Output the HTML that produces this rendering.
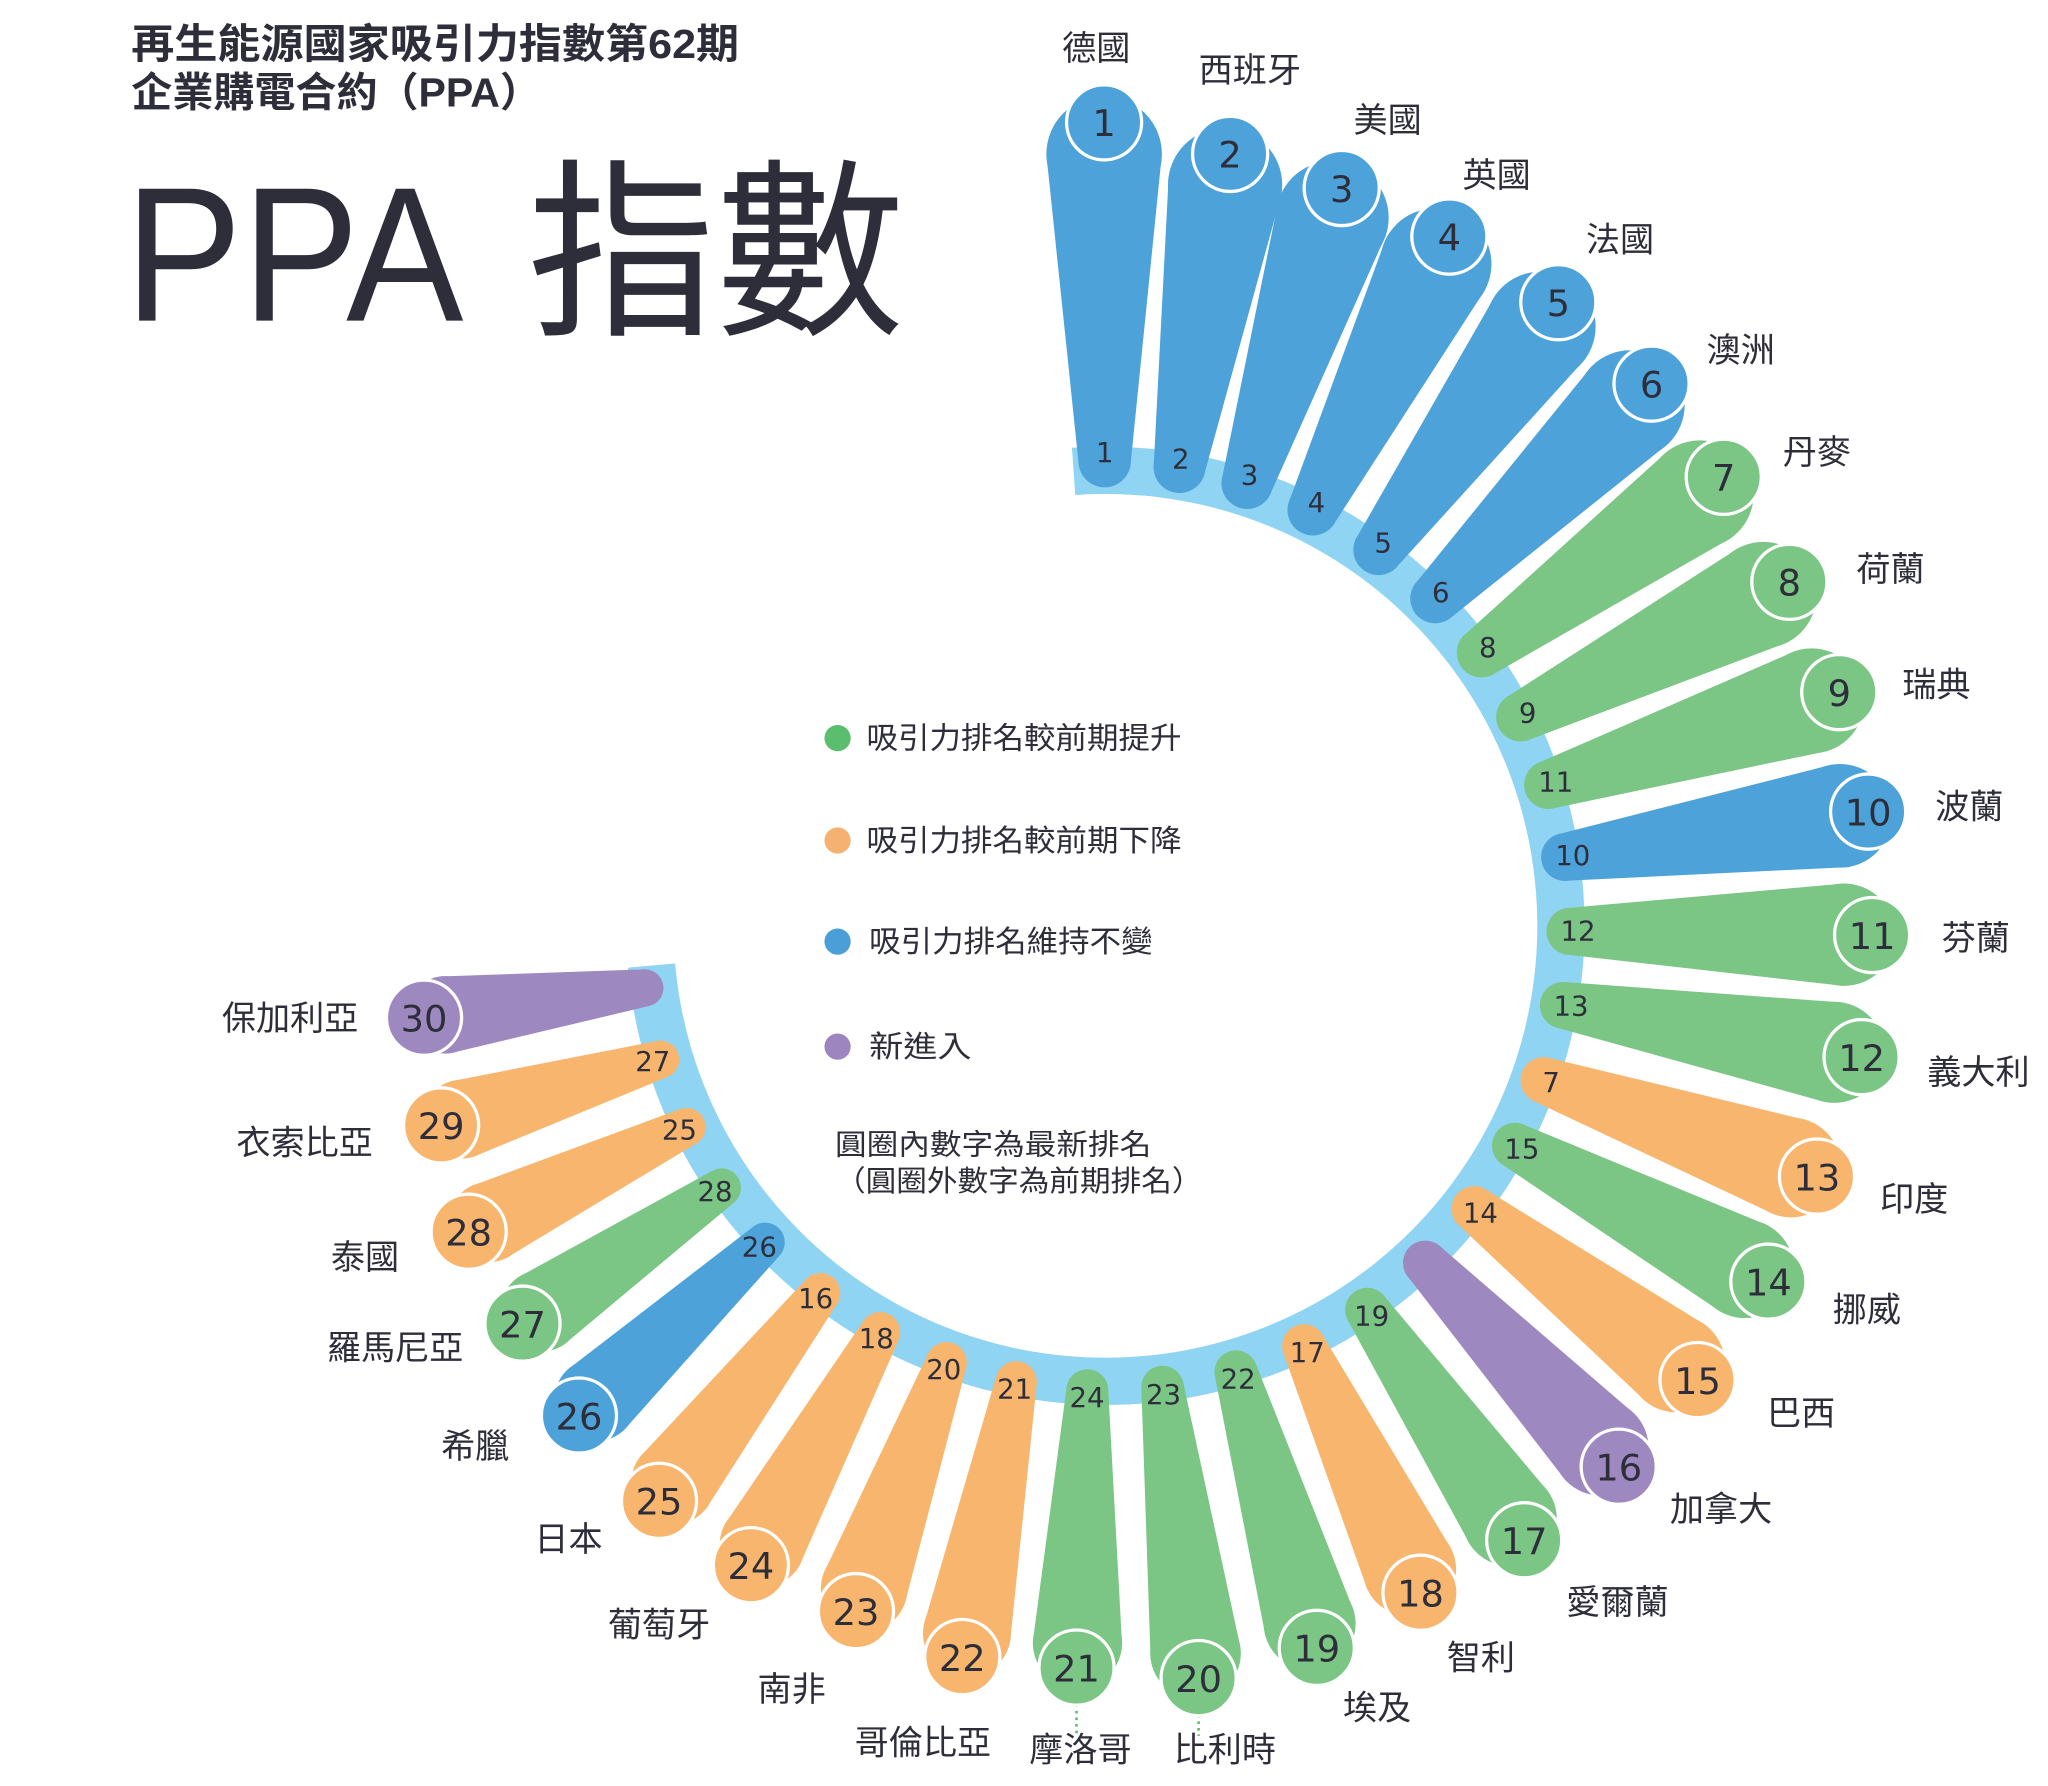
<!DOCTYPE html>
<html><head><meta charset="utf-8"><style>
html,body{margin:0;padding:0;background:#fff;}
svg{display:block;}
text{font-family:"Liberation Sans","Noto Sans CJK TC",sans-serif;fill:#2d2e3a;}
.num{font-family:"DejaVu Sans","Liberation Sans",sans-serif;}
</style></head><body>
<svg id="s" xmlns="http://www.w3.org/2000/svg" width="2048" height="1786" viewBox="0 0 1560 1360">
<text x="100" y="44" font-size="31" font-weight="bold" textLength="463" lengthAdjust="spacingAndGlyphs">再生能源國家吸引力指數第62期</text>
<text x="100" y="81" font-size="31" font-weight="bold" textLength="312" lengthAdjust="spacingAndGlyphs">企業購電合約（PPA）</text>
<text x="95" y="244" font-size="146" textLength="258" lengthAdjust="spacingAndGlyphs">PPA</text>
<text x="402" y="244" font-size="146" textLength="287" lengthAdjust="spacingAndGlyphs">指數</text>
<g id="legend" font-size="23">
<circle cx="638" cy="562" r="10" fill="#5bbd6e"/><text x="660" y="570" textLength="240" lengthAdjust="spacingAndGlyphs">吸引力排名較前期提升</text>
<circle cx="638" cy="640" r="10" fill="#f5b171"/><text x="660" y="648" textLength="240" lengthAdjust="spacingAndGlyphs">吸引力排名較前期下降</text>
<circle cx="638" cy="717" r="10" fill="#4a9fd8"/><text x="662" y="725" textLength="216" lengthAdjust="spacingAndGlyphs">吸引力排名維持不變</text>
<circle cx="638" cy="797" r="10" fill="#9d86c0"/><text x="662" y="805" textLength="78" lengthAdjust="spacingAndGlyphs">新進入</text>
<text x="636" y="879" font-size="22" textLength="241" lengthAdjust="spacingAndGlyphs">圓圈內數字為最新排名</text>
<text x="636" y="907" font-size="22" textLength="280" lengthAdjust="spacingAndGlyphs">（圓圈外數字為前期排名）</text>
</g>
<line x1="820" y1="1298" x2="820" y2="1320" stroke="#5bbd6e" stroke-width="2" stroke-dasharray="2,3"/>
<line x1="913" y1="1306" x2="913" y2="1322" stroke="#5bbd6e" stroke-width="2" stroke-dasharray="2,3"/>
<g id="g"></g>
</svg>
<script>
(function(){
var NS="http://www.w3.org/2000/svg";
var g=document.getElementById("g");
function el(t,a,txt){var e=document.createElementNS(NS,t);for(var k in a)e.setAttribute(k,a[k]);if(txt!=null)e.textContent=txt;g.appendChild(e);return e;}
var cx=842,cy=705;
// band
var ri=329,ro=365,a0=-94*Math.PI/180,a1=175*Math.PI/180;
function pt(r,a){return [cx+r*Math.cos(a),cy+r*Math.sin(a)];}
var p1=pt(ro,a0),p2=pt(ro,a1),p3=pt(ri,a1),p4=pt(ri,a0);
el("path",{d:"M"+p1+" A"+ro+","+ro+" 0 1 1 "+p2+" L"+p3+" A"+ri+","+ri+" 0 1 0 "+p4+" Z",fill:"#8fd4f2"});
var P=[[841,93],[937,117],[1022,143],[1104,180],[1187,230],[1258,292],[1313,363],[1363,443],[1401,527],[1423,618],[1426,712],[1418,805],[1384,896],[1347,976],[1293,1051],[1233,1117],[1161,1173],[1082,1213],[1003,1255],[913,1278],[820,1270],[733,1262],[652,1227],[572,1192],[502,1143],[441,1078],[398,1008],[357,938],[336,857],[323,775]];
var C="bbbbbbgggbggogopgogggoooobgoop";
var col={b:"#4da2d9",g:"#7bc585",o:"#f8b56e",p:"#9e88c0"};
var prev=[1,2,3,4,5,6,8,9,11,10,12,13,7,15,14,null,19,17,22,23,24,21,20,18,16,26,28,25,27,null];
var names=[["德國",835,37],["西班牙",952,54],["美國",1057,92],["英國",1140,134],["法國",1234,183],["澳洲",1326,267],["丹麥",1384,345],["荷蘭",1440,434],["瑞典",1475,522],["波蘭",1500,615],["芬蘭",1505,715],["義大利",1507,817],["印度",1458,914],["挪威",1422,998],["巴西",1372,1077],["加拿大",1311,1150],["愛爾蘭",1232,1221],["智利",1128,1263],["埃及",1049,1301],["比利時",933,1333],["摩洛哥",823,1333],["哥倫比亞",703,1328],["南非",603,1287],["葡萄牙",502,1238],["日本",433,1173],["希臘",362,1102],["羅馬尼亞",301,1027],["泰國",278,958],["衣索比亞",232,871],["保加利亞",221,776]];
var i,circles=[];
for(i=0;i<30;i++){
 var dx=P[i][0]-cx,dy=P[i][1]-cy,L=Math.sqrt(dx*dx+dy*dy),ux=dx/L,uy=dy/L,nx=-uy,ny=ux;
 var rO=44-0.5*i,rB=20-0.2*i,dO=L-0.55*rO,dB=354;
 var Bx=cx+ux*dB,By=cy+uy*dB,Ox=cx+ux*dO,Oy=cy+uy*dO;
 var c=col[C[i]];
 el("path",{d:"M"+(Bx+nx*rB)+","+(By+ny*rB)+" L"+(Ox+nx*rO)+","+(Oy+ny*rO)+" L"+(Ox-nx*rO)+","+(Oy-ny*rO)+" L"+(Bx-nx*rB)+","+(By-ny*rB)+" Z",fill:c});
 el("circle",{cx:Bx,cy:By,r:rB,fill:c});
 el("circle",{cx:Ox,cy:Oy,r:rO,fill:c});
 if(prev[i]!=null){
  el("text",{x:cx+ux*360,y:cy+uy*360,"font-size":"21","text-anchor":"middle","dominant-baseline":"central","class":"num"},String(prev[i]));
 }
}
for(i=0;i<30;i++){
 el("circle",{cx:P[i][0],cy:P[i][1],r:28.6,fill:col[C[i]],stroke:"#fff","stroke-width":"2.5"});
 el("text",{x:P[i][0],y:P[i][1]+1,"font-size":"28","text-anchor":"middle","dominant-baseline":"central","class":"num"},String(i+1));
 var n=names[i];
 el("text",{x:n[1],y:n[2],"font-size":"26","text-anchor":"middle","dominant-baseline":"central"},n[0]);
}
})();
</script>
</body></html>
